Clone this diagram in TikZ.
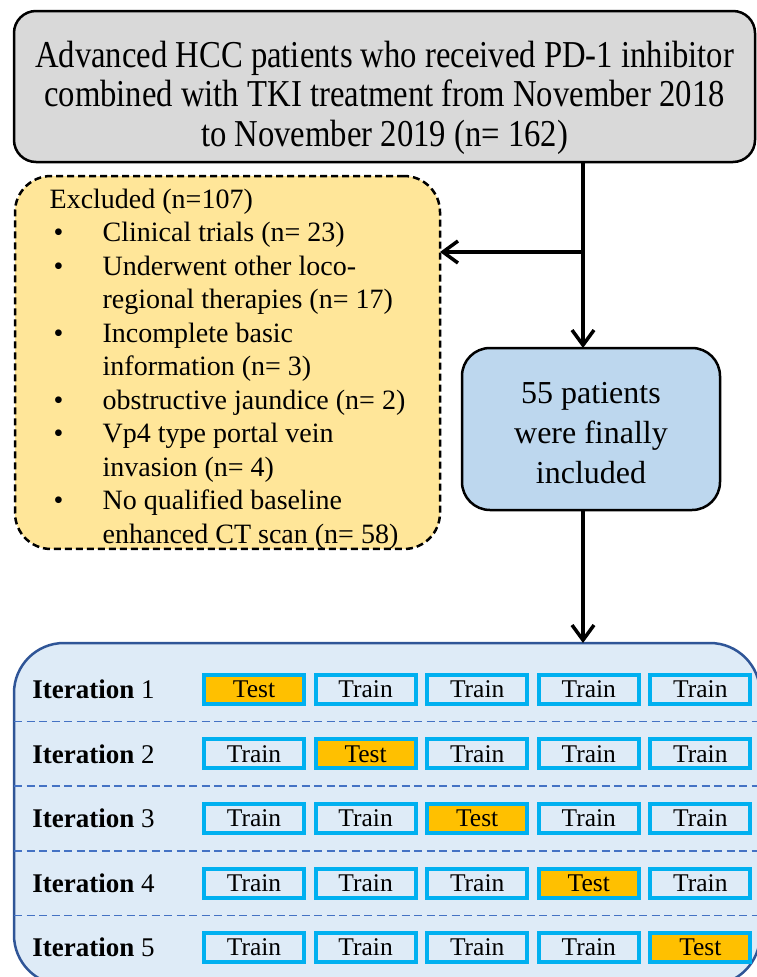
\documentclass[tikz,border=0pt]{standalone}
\usepackage{fontspec}
\setmainfont{Liberation Serif}
\newfontfamily\hdrfont[FakeStretch=0.86]{Liberation Serif}
\usetikzlibrary{matrix,arrows.meta,calc}

\definecolor{hdrgray}{HTML}{D9D9D9}
\definecolor{exclyellow}{HTML}{FFE699}
\definecolor{inclblue}{HTML}{BDD7EE}
\definecolor{panelblue}{HTML}{DEEBF7}
\definecolor{paneledge}{HTML}{2F5597}
\definecolor{sepblue}{HTML}{4472C4}
\definecolor{cellcyan}{HTML}{00B0F0}
\definecolor{testorange}{HTML}{FFC000}

\newcommand{\bul}{\makebox[53pt][l]{\hspace{4pt}\textbullet}}
\newcommand{\ind}{\hspace*{53pt}}

\begin{document}
\begin{tikzpicture}[x=1pt, y=-1pt, thick,
		flowbox/.style={draw, line width=2.5pt, rounded corners=22pt, align=center, inner sep=0pt, outer sep=0pt},
		exclbox/.style={draw, dashed, dash pattern=on 7pt off 4pt, line width=2.5pt, fill=exclyellow, rounded corners=36pt, align=left, inner sep=0pt, outer sep=0pt},
		panel/.style={draw=paneledge, line width=2.5pt, fill=panelblue, rounded corners=50pt, outer sep=0pt},
		cell/.style={draw=cellcyan, line width=4pt, fill=panelblue, minimum width=100pt, minimum height=29pt, inner sep=0pt, outer sep=0pt, font=\fontsize{25.5}{30}\selectfont},
		testcell/.style={fill=testorange},
		iterlabel/.style={inner sep=0pt, font=\fontsize{27}{32}\selectfont},
		sepline/.style={draw=sepblue, line width=1.6pt, dash pattern=on 8pt off 4.5pt},
		conn/.style={line width=3.5pt, -{Straight Barb[length=15pt, width=22pt]}}
	]
	\useasboundingbox (0,0) rectangle (757,977);
	\clip (0,0) rectangle (757,977);

	\node[flowbox, fill=hdrgray, minimum width=741pt, minimum height=151pt, font=\hdrfont\fontsize{38}{39.5}\selectfont] (start) at (384.5,86.5)
		{\rule{0pt}{49pt}Advanced HCC patients who received PD-1 inhibitor\\combined with TKI treatment from November 2018\\to November 2019 (n= 162)};

	\node[exclbox, minimum width=425pt, minimum height=371pt, font=\fontsize{28}{33.5}\selectfont] (excl) at (227.5,362.5)
		{\rule{0pt}{32pt}Excluded (n=107)\\
		\bul Clinical trials (n= 23)\\
		\bul Underwent other loco-\\
		\ind regional therapies (n= 17)\\
		\bul Incomplete basic\\
		\ind information (n= 3)\\
		\bul obstructive jaundice (n= 2)\\
		\bul Vp4 type portal vein\\
		\ind invasion (n= 4)\\
		\bul No qualified baseline\\
		\ind enhanced CT scan (n= 58)};

	\node[flowbox, fill=inclblue, rounded corners=28pt, minimum width=258pt, minimum height=162pt, font=\fontsize{32}{40}\selectfont] (incl) at (591,429)
		{\rule{0pt}{29pt}55 patients\\were finally\\included};

	\node[panel, minimum width=746pt, minimum height=342pt] (folds) at (387,814) {};

	\coordinate (split) at (583,252);
	\path[conn]
		(start.south -| split) edge[-] (split) % trunk
		(split) edge (excl.east |- split) % excluded
		(split) edge (incl.north -| split) % included
		(incl.south -| split) edge (folds.north -| split) % into the folds
		;

	\matrix (m) [matrix of nodes, row sep=31.5pt, column sep=7.6pt, nodes={cell}] at (477.2,818.5)
	{
		|[testcell]| Test & Train & Train & Train & Train \\
		Train & |[testcell]| Test & Train & Train & Train \\
		Train & Train & |[testcell]| Test & Train & Train \\
		Train & Train & Train & |[testcell]| Test & Train \\
		Train & Train & Train & Train & |[testcell]| Test \\
	};

	\coordinate (lblx) at (32,0);
	\foreach \i in {1,...,5}
		\node[iterlabel, anchor=west] (it\i) at (lblx |- m-\i-1) {\textbf{Iteration} \i};

	\foreach \i/\j in {1/2,2/3,3/4,4/5}{
		\coordinate (sep\i) at ($(m-\i-1.south)!0.5!(m-\j-1.north)$);
		\draw[sepline] (folds.west |- sep\i) -- (folds.east |- sep\i);
	}
\end{tikzpicture}
\end{document}
